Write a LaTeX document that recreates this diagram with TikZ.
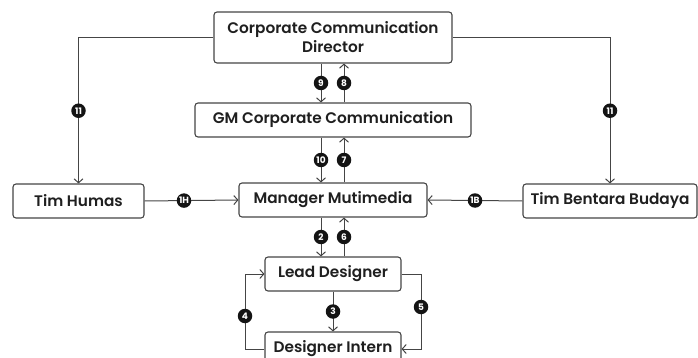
\documentclass[tikz,border=0pt]{standalone}
\usepackage{fontspec}
\setmainfont{Poppins}[UprightFont={* SemiBold},BoldFont={* Bold}]
\usetikzlibrary{arrows.meta}
\definecolor{ln}{HTML}{454545}
\tikzset{
  box/.style={draw=ln, line width=1.1pt, rounded corners=3pt, fill=white,
    font=\fontsize{15.3}{19}\selectfont, text=black!88, align=center, inner sep=0pt},
  arr/.style={draw=ln, line width=1pt, -{Straight Barb[length=4pt,width=9pt]}},
  badge/.style={circle, fill=black!92, text=white, inner sep=0pt, minimum size=14.5pt,
    font=\fontsize{9}{9}\selectfont\bfseries}
}
\begin{document}
\begin{tikzpicture}[x=1pt,y=-1pt]
\useasboundingbox (0,0) rectangle (698,358);
\node[box, minimum width=238pt, minimum height=51pt] (dir) at (333,37.5) {Corporate Communication\\Director};
\node[box, minimum width=276pt, minimum height=34pt] (gm) at (333,120) {GM Corporate Communication};
\node[box, minimum width=131pt, minimum height=34pt] (humas) at (78.5,201) {Tim Humas};
\node[box, minimum width=188pt, minimum height=34pt] (mgr) at (333,200) {Manager Mutimedia};
\node[box, minimum width=174pt, minimum height=34pt] (bent) at (610,201) {Tim Bentara Budaya};
\node[box, minimum width=136pt, minimum height=34pt] (lead) at (333,274) {Lead Designer};
\node[box, minimum width=136pt, minimum height=34pt] (intern) at (333,349) {Designer Intern};

% 11 left and right
\draw[arr] ([yshift=-0.5pt]dir.west) -| node[badge, pos=0.75] {11} (humas.north);
\draw[arr] ([yshift=-0.5pt]dir.east) -| node[badge, pos=0.75] {11} (bent.north);
% 9 / 8
\draw[arr] ([xshift=-12pt]dir.south) -- node[badge] {9} ([xshift=-12pt]gm.north);
\draw[arr] ([xshift=11pt]gm.north) -- node[badge] {8} ([xshift=11pt]dir.south);
% 10 / 7
\draw[arr] ([xshift=-12pt]gm.south) -- node[badge] {10} ([xshift=-12pt]mgr.north);
\draw[arr] ([xshift=11pt]mgr.north) -- node[badge] {7} ([xshift=11pt]gm.south);
% 1H / 1B
\draw[arr] (humas.east) -- node[badge, pos=0.42] {1H} (mgr.west);
\draw[arr] (bent.west) -- node[badge] {1B} (mgr.east);
% 2 / 6
\draw[arr] ([xshift=-12pt]mgr.south) -- node[badge] {2} ([xshift=-12pt]lead.north);
\draw[arr] ([xshift=11pt]lead.north) -- node[badge] {6} ([xshift=11pt]mgr.south);
% 3
\draw[arr] (lead.south) -- node[badge] {3} (intern.north);
% 4 / 5
\coordinate (l4) at (245,0);
\coordinate (r5) at (421,0);
\draw[arr] (intern.west) -| node[badge, pos=0.72] {4} (l4 |- lead.west) -- (lead.west);
\draw[arr] (lead.east) -| node[badge, pos=0.72] {5} (r5 |- intern.east) -- (intern.east);
\end{tikzpicture}
\end{document}
